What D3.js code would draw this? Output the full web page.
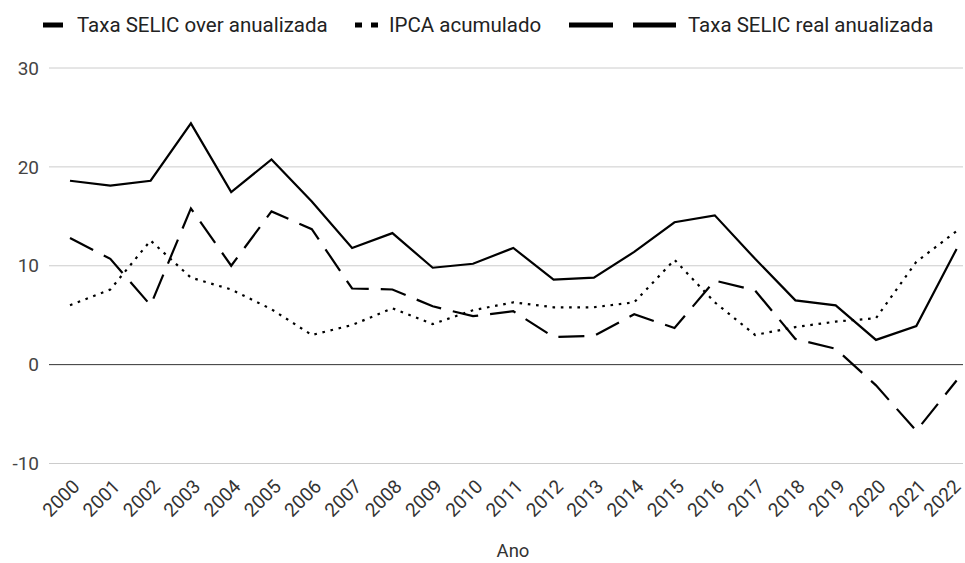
<!DOCTYPE html>
<html><head><meta charset="utf-8">
<script src="https://cdn.jsdelivr.net/npm/d3@7"></script>
<style>body{margin:0;background:#fff;font-family:Roboto,Arial,sans-serif}</style>
</head><body><svg id="c" width="965" height="563"></svg>
<script>
const years = ["2000","2001","2002","2003","2004","2005","2006","2007","2008","2009","2010","2011","2012","2013","2014","2015","2016","2017","2018","2019","2020","2021","2022"];
const selicOver = [18.6,18.1,18.6,24.4,17.45,20.75,16.5,11.8,13.3,9.8,10.2,11.8,8.6,8.8,11.4,14.4,15.1,10.7,6.5,6.0,2.5,3.9,11.7];
const ipca = [6.0,7.6,12.55,8.8,7.6,5.6,3.0,4.0,5.7,4.1,5.5,6.3,5.8,5.8,6.3,10.6,6.3,3.0,3.8,4.35,4.7,10.4,13.5];
const selicReal = [12.8,10.7,6.0,15.8,10.0,15.5,13.7,7.7,7.6,5.9,4.9,5.4,2.8,2.9,5.1,3.7,8.5,7.5,2.6,1.6,-2.1,-6.7,-1.6];
const yTicks = [-10,0,10,20,30];
const seriesNames = ["Taxa SELIC over anualizada","IPCA acumulado","Taxa SELIC real anualizada"];

const svg = d3.select("#c");
const x = d3.scalePoint().domain(years).range([70, 956.6]);
const y = d3.scaleLinear().domain([-10, 30]).range([463.5, 68]);
const left = 49, right = 963;
const axisFont = 19;

// grid
svg.append("g").selectAll("line").data(yTicks).join("line")
  .attr("x1", left).attr("x2", right)
  .attr("y1", d => y(d)).attr("y2", d => y(d))
  .attr("stroke", d => d === 0 ? "#333" : "#ccc").attr("stroke-width", 1);

// y labels
svg.append("g").selectAll("text").data(yTicks).join("text")
  .attr("x", 39).attr("y", d => y(d)).attr("dy", "0.35em")
  .attr("text-anchor", "end").attr("font-size", axisFont).attr("fill", "#444")
  .text(d => d);

// x labels
svg.append("g").selectAll("text").data(years).join("text")
  .attr("transform", d => `translate(${Math.min(x(d) + 6, 957)},${483}) rotate(-45)`)
  .attr("text-anchor", "end").attr("dy", "0.35em").attr("font-size", axisFont).attr("fill", "#333")
  .text(d => d);

svg.append("text").attr("x", 513).attr("y", 557).attr("text-anchor", "middle")
  .attr("font-size", 18.5).attr("fill", "#333").text("Ano");

const line = d3.line().x((d, i) => x(years[i])).y(d => y(d));
const styles = [
  {data: selicOver, dash: null},
  {data: ipca, dash: "2.6,5.7"},
  {data: selicReal, dash: "26,12"}
];
styles.forEach(s => {
  svg.append("path").attr("d", line(s.data)).attr("fill", "none")
    .attr("stroke", "#000").attr("stroke-width", 2.2)
    .attr("stroke-dasharray", s.dash).attr("stroke-linejoin", "miter");
});

// legend
const lg = svg.append("g");
const ly = 25;
const lf = 20.5;
lg.append("line").attr("x1", 43).attr("x2", 63).attr("y1", ly).attr("y2", ly).attr("stroke", "#000").attr("stroke-width", 5);
lg.append("text").attr("x", 77).attr("y", ly).attr("dy", "0.35em").attr("font-size", lf).attr("fill", "#222").text(seriesNames[0]);
lg.append("line").attr("x1", 355).attr("x2", 378).attr("y1", ly).attr("y2", ly).attr("stroke", "#000").attr("stroke-width", 5).attr("stroke-dasharray", "7,9");
lg.append("text").attr("x", 389).attr("y", ly).attr("dy", "0.35em").attr("font-size", lf).attr("fill", "#222").text(seriesNames[1]);
lg.append("line").attr("x1", 569).attr("x2", 676).attr("y1", ly).attr("y2", ly).attr("stroke", "#000").attr("stroke-width", 5).attr("stroke-dasharray", "44,20");
lg.append("text").attr("x", 688).attr("y", ly).attr("dy", "0.35em").attr("font-size", lf).attr("fill", "#222").text(seriesNames[2]);
</script></body></html>
